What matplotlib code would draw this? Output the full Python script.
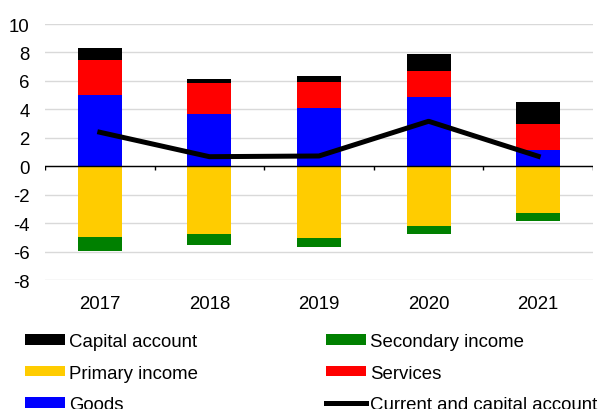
import matplotlib.pyplot as plt
import numpy as np

plt.rcParams['font.family'] = ['Liberation Sans', 'DejaVu Sans']
plt.rcParams['axes.unicode_minus'] = False

years = ['2017', '2018', '2019', '2020', '2021']
goods = [5.0, 3.65, 4.07, 4.84, 1.12]
services = [2.44, 2.2, 1.83, 1.83, 1.83]
capital = [0.89, 0.28, 0.44, 1.21, 1.56]
primary = [-4.96, -4.77, -5.03, -4.23, -3.3]
secondary = [-1.0, -0.75, -0.65, -0.54, -0.56]
total = [2.39, 0.67, 0.72, 3.16, 0.7]

x = np.arange(len(years))
goods = np.array(goods)
services = np.array(services)
primary = np.array(primary)

fig = plt.figure(figsize=(6.03, 4.10), dpi=100)
ax = fig.add_axes([45 / 603, 129 / 410, 548 / 603, 256 / 410])

w = 0.4
b_cap = ax.bar(x, capital, w, bottom=goods + services, color='#000000')
b_sec = ax.bar(x, secondary, w, bottom=primary, color='#008000')
b_pri = ax.bar(x, primary, w, color='#ffcc00')
b_srv = ax.bar(x, services, w, bottom=goods, color='#ff0000')
b_gds = ax.bar(x, goods, w, color='#0000ff')
ln, = ax.plot(x, total, color='black', lw=3.6)

ax.set_xlim(-0.5, 4.5)
ax.set_ylim(-8, 10)
ax.set_yticks(range(-8, 11, 2))
ax.yaxis.grid(True, color='#d9d9d9', lw=1)
ax.set_axisbelow(True)
for s in ax.spines.values():
    s.set_visible(False)
ax.axhline(0, color='black', lw=1)
ax.vlines(np.arange(-0.5, 5, 1), -0.3, 0, color='black', lw=1)
ax.set_xticks(x)
ax.set_xticklabels(years)
ax.tick_params(axis='both', length=0, labelsize=13.4, pad=11)
ax.tick_params(axis='y', pad=11)

fig.legend([b_cap, b_pri, b_gds, b_sec, b_srv, ln],
           ['Capital account', 'Primary income', 'Goods',
            'Secondary income', 'Services', 'Current and capital account'],
           ncol=2, frameon=False, fontsize=13.4, loc='upper left',
           bbox_to_anchor=(0.0415, 0.185), handlelength=2.15, handleheight=0.5,
           handletextpad=0.2, labelspacing=0.78, columnspacing=6.9,
           borderaxespad=0, borderpad=0)

fig.savefig('out.png', dpi=100)
